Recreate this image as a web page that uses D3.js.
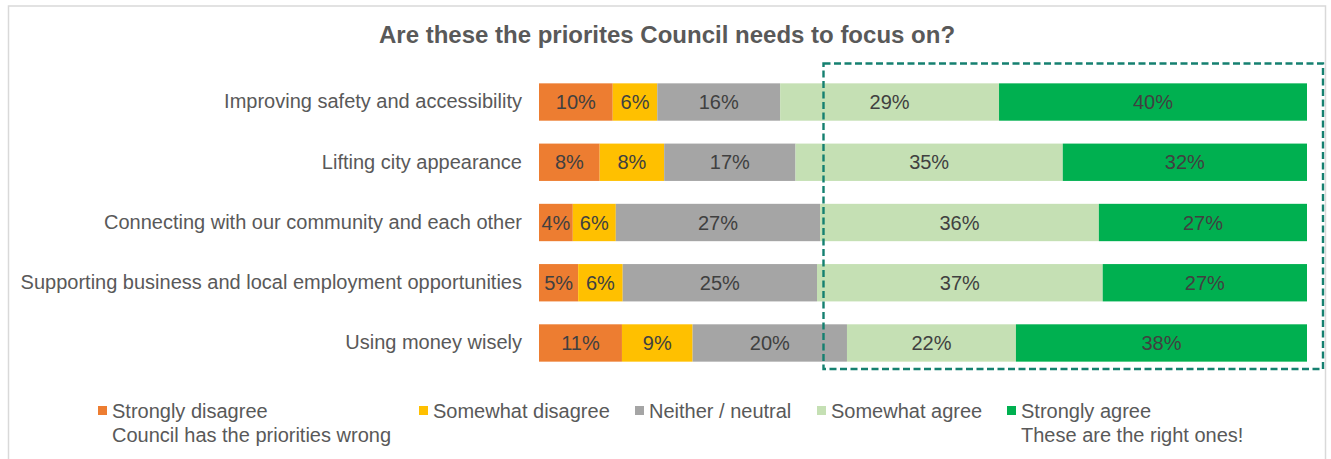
<!DOCTYPE html>
<html>
<head>
<meta charset="utf-8">
<script src="https://cdn.jsdelivr.net/npm/d3@7"></script>
<style>
  body { margin: 0; background: #fff; }
  svg text { font-family: "Liberation Sans", Arial, sans-serif; }
</style>
</head>
<body>
<svg id="chart" width="1331" height="459"></svg>
<script>
// categories (top to bottom)
const categories = [
    "Improving safety and accessibility",
    "Lifting city appearance",
    "Connecting with our community and each other",
    "Supporting business and local employment opportunities",
    "Using money wisely"
];

// series values, % of respondents, same order as categories
const stronglyDisagree = [9.6, 7.9, 4.4, 5.1, 10.8];
const somewhatDisagree = [5.8, 8.4, 5.6, 5.8, 9.2];
const neutral          = [16.0, 17.1, 26.6, 25.3, 20.1];
const somewhatAgree    = [28.5, 34.8, 36.3, 37.2, 22.0];
const stronglyAgree    = [40.1, 31.8, 27.1, 26.6, 37.9];

const seriesNames = ["Strongly disagree", "Somewhat disagree", "Neither / neutral", "Somewhat agree", "Strongly agree"];
const seriesNotes = ["Council has the priorities wrong", "", "", "", "These are the right ones!"];
const colors = ["#ED7D31", "#FFC000", "#A5A5A5", "#C5E0B4", "#00B050"];

const width = 1331;
const height = 459;
const svg = d3.select("#chart");

// build rows for the stack
const seriesValues = [stronglyDisagree, somewhatDisagree, neutral, somewhatAgree, stronglyAgree];
const rows = categories.map((c, i) => {
    const row = { category: c };
    seriesNames.forEach((s, j) => { row[s] = seriesValues[j][i]; });
    return row;
});
const stacked = d3.stack().keys(seriesNames)(rows);

// scales
const xScale = d3.scaleLinear().domain([0, 100]).range([539, 1307]);
const yScale = d3.scaleBand()
    .domain(categories)
    .range([71.9, 373.1])
    .paddingInner(0.38)
    .paddingOuter(0.19);
const colorScale = d3.scaleOrdinal().domain(seriesNames).range(colors);

// outer frame
svg.append("rect")
    .attr("x", 8.5)
    .attr("y", 6)
    .attr("width", 1317)
    .attr("height", 470)
    .attr("fill", "none")
    .attr("stroke", "#d9d9d9")
    .attr("stroke-width", 1.5);

// title
svg.append("text")
    .attr("x", 667)
    .attr("y", 43)
    .attr("text-anchor", "middle")
    .style("fill", "#595959")
    .style("font-size", "24px")
    .style("font-weight", "bold")
    .text("Are these the priorites Council needs to focus on?");

// category labels (y axis, no line / ticks)
const yAxis = d3.axisLeft(yScale).tickSize(0).tickPadding(17);
svg.append("g")
    .attr("transform", `translate(${xScale(0)}, 0)`)
    .call(yAxis)
    .call(g => g.select(".domain").remove())
    .selectAll("text")
    .style("fill", "#595959")
    .style("font-size", "20px")
    .style("font-family", "Liberation Sans, Arial, sans-serif");

// bars
const layer = svg.selectAll(".layer")
    .data(stacked)
    .enter()
    .append("g")
    .attr("class", "layer")
    .attr("fill", d => colorScale(d.key));

layer.selectAll("rect")
    .data(d => d)
    .enter()
    .append("rect")
    .attr("x", d => xScale(d[0]))
    .attr("y", d => yScale(d.data.category))
    .attr("width", d => xScale(d[1]) - xScale(d[0]))
    .attr("height", yScale.bandwidth());

// value labels
layer.selectAll("text")
    .data(d => d)
    .enter()
    .append("text")
    .attr("x", d => (xScale(d[0]) + xScale(d[1])) / 2)
    .attr("y", d => yScale(d.data.category) + yScale.bandwidth() / 2)
    .attr("dy", "0.36em")
    .attr("text-anchor", "middle")
    .style("fill", "#404040")
    .style("font-size", "20px")
    .text(d => Math.round(d[1] - d[0]) + "%");

// dashed highlight box around the agree side
svg.append("rect")
    .attr("x", 823.5)
    .attr("y", 63.5)
    .attr("width", 499.5)
    .attr("height", 305.5)
    .attr("fill", "none")
    .attr("stroke", "#158070")
    .attr("stroke-width", 2.4)
    .attr("stroke-dasharray", "7,3.5");

// legend
const legendX = [98, 419, 635, 817, 1007];
const legend = svg.selectAll(".legend")
    .data(seriesNames)
    .enter()
    .append("g")
    .attr("class", "legend")
    .attr("transform", (d, i) => `translate(${legendX[i]}, 0)`);

legend.append("rect")
    .attr("x", 0)
    .attr("y", 406)
    .attr("width", 9)
    .attr("height", 9)
    .attr("fill", d => colorScale(d));

legend.append("text")
    .attr("x", 14)
    .attr("y", 418)
    .style("fill", "#595959")
    .style("font-size", "20px")
    .text(d => d);

legend.append("text")
    .attr("x", 14)
    .attr("y", 442)
    .style("fill", "#595959")
    .style("font-size", "20px")
    .text((d, i) => seriesNotes[i]);
</script>
</body>
</html>
